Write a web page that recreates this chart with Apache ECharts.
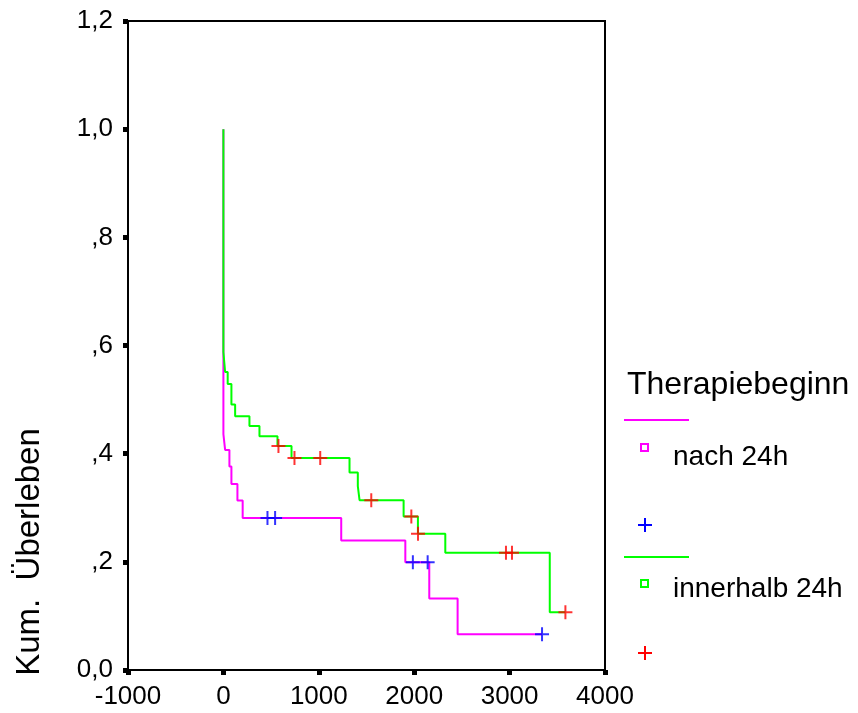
<!DOCTYPE html>
<html>
<head>
<meta charset="utf-8">
<script src="https://cdn.jsdelivr.net/npm/echarts@6/dist/echarts.min.js"></script>
<style>html,body{margin:0;padding:0;background:#fff}#c{width:858px;height:713px}</style>
</head>
<body>
<div id="c"></div>
<script>
// ---- data ----
var xTicks = [-1000, 0, 1000, 2000, 3000, 4000];
var yTickLabels = ['0,0', ',2', ',4', ',6', ',8', '1,0', '1,2'];
var legendTitle = 'Therapiebeginn';
var groupNames = ['nach 24h', 'innerhalb 24h'];
var yAxisTitle = 'Kum.  Überleben';

// nach 24h: survival curve (time, cumulative survival)
var nachTimes = [0, 0, 18, 63, 84, 147, 202, 1235, 1907, 2158, 2455, 3340];
var nachSurv  = [1.0, 0.436, 0.407, 0.3765, 0.344, 0.3135, 0.281, 0.2395, 0.1994, 0.132, 0.066, 0.066];
// nach 24h: censored
var nachCensTimes = [462, 542, 1986, 2141, 3340];
var nachCensSurv  = [0.281, 0.281, 0.1994, 0.1994, 0.066];

// innerhalb 24h: survival curve
var innTimes = [0, 0, 18, 45, 84, 123, 273, 378, 567, 714, 1322, 1409, 1427, 1889, 2039, 2326, 3421, 3585];
var innSurv  = [1.0, 0.588, 0.551, 0.529, 0.491, 0.469, 0.451, 0.432, 0.414, 0.392, 0.365, 0.340, 0.314, 0.284, 0.252, 0.217, 0.107, 0.107];
// innerhalb 24h: censored
var innCensTimes = [577, 745, 1015, 1550, 1970, 2040, 2962, 3025, 3585];
var innCensSurv  = [0.414, 0.392, 0.392, 0.314, 0.284, 0.252, 0.217, 0.217, 0.107];

function zip(a, b) { return a.map(function (v, i) { return [v, b[i]]; }); }

var FONT = '"Liberation Sans", Arial, sans-serif';
var MAG = '#FF00FF', GRN = '#00FF00', BLU = '#0000FF', RED = '#FF0000';
var PLUS = 'path://M0,6h14v2h-14z M6,0h2v14h-2z';

function plusMark(cx, cy, color) {
  return {type: 'group', x: cx, y: cy, children: [
    {type: 'rect', shape: {x: -7, y: -1, width: 14, height: 2}, style: {fill: color}},
    {type: 'rect', shape: {x: -1, y: -7, width: 2, height: 14}, style: {fill: color}}
  ]};
}

var chart = echarts.init(document.getElementById('c'), null, {renderer: 'canvas'});
chart.setOption({
  animation: false,
  backgroundColor: '#fff',
  grid: {left: 128, right: 253, top: 21, bottom: 43, show: true, borderColor: '#000', borderWidth: 2, backgroundColor: 'transparent'},
  xAxis: {
    type: 'value', min: xTicks[0], max: xTicks[xTicks.length - 1], interval: 1000,
    axisLine: {show: true, onZero: false, lineStyle: {color: '#000', width: 2}},
    axisTick: {show: true, length: 5, lineStyle: {color: '#000', width: 5}},
    splitLine: {show: false},
    axisLabel: {color: '#000', fontSize: 26, fontFamily: FONT, margin: 14, formatter: function (v) { return String(v); }}
  },
  yAxis: {
    type: 'value', min: 0, max: 1.2, interval: 0.2,
    axisLine: {show: true, onZero: false, lineStyle: {color: '#000', width: 2}},
    axisTick: {show: true, length: 5, lineStyle: {color: '#000', width: 5}},
    splitLine: {show: false},
    axisLabel: {color: '#000', fontSize: 26, fontFamily: FONT, margin: 15,
      formatter: function (v) { return yTickLabels[Math.round(v / 0.2)]; }}
  },
  series: [
    {type: 'line', step: 'end', data: zip(nachTimes, nachSurv), showSymbol: false, symbol: 'none',
     lineStyle: {color: MAG, width: 2}, z: 2},
    {type: 'line', step: 'end', data: zip(innTimes, innSurv), showSymbol: false, symbol: 'none',
     lineStyle: {color: GRN, width: 2}, z: 3},
    {type: 'scatter', data: zip(nachCensTimes, nachCensSurv), symbol: PLUS, symbolSize: 14,
     itemStyle: {color: BLU}, z: 4},
    {type: 'scatter', data: zip(innCensTimes, innCensSurv), symbol: PLUS, symbolSize: 14,
     itemStyle: {color: RED}, z: 5}
  ],
  graphic: [
    {type: 'text', x: 30, y: 552, rotation: Math.PI / 2,
     style: {text: yAxisTitle, fill: '#000', font: '33px ' + FONT, align: 'center', verticalAlign: 'middle'}},
    {type: 'text', x: 627, y: 385,
     style: {text: legendTitle, fill: '#000', font: '32px ' + FONT, align: 'left', verticalAlign: 'middle'}},
    {type: 'line', shape: {x1: 624, y1: 420, x2: 689, y2: 420}, style: {stroke: MAG, lineWidth: 2}},
    {type: 'rect', shape: {x: 641, y: 444, width: 7, height: 7}, style: {fill: 'none', stroke: MAG, lineWidth: 2}},
    {type: 'text', x: 673, y: 457,
     style: {text: groupNames[0], fill: '#000', font: '28px ' + FONT, align: 'left', verticalAlign: 'middle'}},
    plusMark(645, 525, BLU),
    {type: 'line', shape: {x1: 624, y1: 557, x2: 689, y2: 557}, style: {stroke: GRN, lineWidth: 2}},
    {type: 'rect', shape: {x: 641, y: 580, width: 7, height: 7}, style: {fill: 'none', stroke: GRN, lineWidth: 2}},
    {type: 'text', x: 673, y: 589,
     style: {text: groupNames[1], fill: '#000', font: '28px ' + FONT, align: 'left', verticalAlign: 'middle'}},
    plusMark(645, 653, RED)
  ]
});
</script>
</body>
</html>
